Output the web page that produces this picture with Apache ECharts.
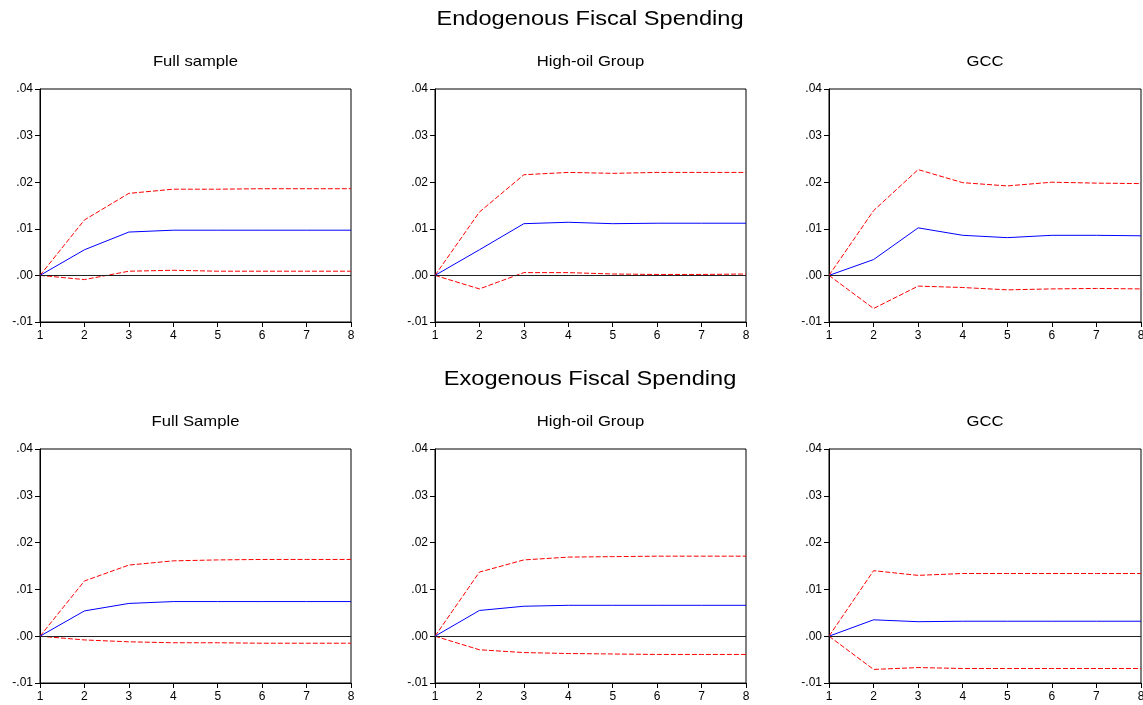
<!DOCTYPE html>
<html>
<head>
<meta charset="utf-8">
<script src="https://cdn.jsdelivr.net/npm/echarts@6/dist/echarts.min.js"></script>
<style>
  html, body { margin: 0; padding: 0; background: #fff; }
  #chart { width: 1143px; height: 705px; }
</style>
</head>
<body>
<div id="chart"></div>
<script>
// periods on the horizontal axis
var periods = [1, 2, 3, 4, 5, 6, 7, 8];

var rowTitles = ["Endogenous Fiscal Spending", "Exogenous Fiscal Spending"];
var panelTitles = ["Full sample", "High-oil Group", "GCC", "Full Sample", "High-oil Group", "GCC"];

// response (blue) and bands (red dashed) for each panel
var resp1 = [0, 0.0055, 0.0093, 0.0097, 0.0097, 0.0097, 0.0097, 0.0097];
var upper1 = [0, 0.0119, 0.0176, 0.0185, 0.0185, 0.0186, 0.0186, 0.0186];
var lower1 = [0, -0.0009, 0.0009, 0.0011, 0.0009, 0.0009, 0.0009, 0.0009];

var resp2 = [0, 0.0055, 0.0111, 0.0114, 0.0111, 0.0112, 0.0112, 0.0112];
var upper2 = [0, 0.0136, 0.0216, 0.0221, 0.0219, 0.0221, 0.0221, 0.0221];
var lower2 = [0, -0.0029, 0.0006, 0.0006, 0.0003, 0.0002, 0.0002, 0.0003];

var resp3 = [0, 0.0034, 0.0102, 0.0086, 0.0081, 0.0086, 0.0086, 0.0085];
var upper3 = [0, 0.0139, 0.0227, 0.0199, 0.0192, 0.0200, 0.0198, 0.0197];
var lower3 = [0, -0.0071, -0.0023, -0.0026, -0.0031, -0.0029, -0.0028, -0.0029];

var resp4 = [0, 0.0054, 0.0070, 0.0074, 0.0074, 0.0074, 0.0074, 0.0074];
var upper4 = [0, 0.0118, 0.0152, 0.0161, 0.0163, 0.0164, 0.0164, 0.0164];
var lower4 = [0, -0.0008, -0.0012, -0.0014, -0.0014, -0.0015, -0.0015, -0.0015];

var resp5 = [0, 0.0055, 0.0064, 0.0066, 0.0066, 0.0066, 0.0066, 0.0066];
var upper5 = [0, 0.0137, 0.0163, 0.0169, 0.0170, 0.0171, 0.0171, 0.0171];
var lower5 = [0, -0.0029, -0.0035, -0.0037, -0.0038, -0.0039, -0.0039, -0.0039];

var resp6 = [0, 0.0035, 0.0031, 0.0032, 0.0032, 0.0032, 0.0032, 0.0032];
var upper6 = [0, 0.0140, 0.0130, 0.0134, 0.0134, 0.0134, 0.0134, 0.0134];
var lower6 = [0, -0.0071, -0.0067, -0.0069, -0.0069, -0.0069, -0.0069, -0.0069];

var panels = [
  [resp1, upper1, lower1],
  [resp2, upper2, lower2],
  [resp3, upper3, lower3],
  [resp4, upper4, lower4],
  [resp5, upper5, lower5],
  [resp6, upper6, lower6]
];

var FONT = "Liberation Sans, Arial, sans-serif";

// grid boxes in pixels
var lefts = [40, 435, 829];
var widths = [311, 311, 312];
var tops = [89, 449];
var heights = [233, 234];

function pairs(arr) {
  return arr.map(function (v, i) { return [periods[i], v]; });
}

function yFmt(v) {
  var s = Math.abs(v).toFixed(2).replace(/^0/, "");
  return (v < 0 ? "-" : "") + s;
}

var grids = [], xAxes = [], yAxes = [], series = [], graphics = [];

panels.forEach(function (p, i) {
  var col = i % 3, row = Math.floor(i / 3);
  grids.push({
    left: lefts[col], top: tops[row], width: widths[col], height: heights[row],
    outerBoundsMode: "none",
    show: true, borderColor: "#000", borderWidth: 1, backgroundColor: "#fff"
  });
  xAxes.push({
    gridIndex: i, type: "value", min: 1, max: 8, interval: 1,
    axisLine: { show: true, onZero: false, lineStyle: { color: "#000", width: 1 } },
    axisTick: { show: true, length: 5, lineStyle: { color: "#000" } },
    axisLabel: { color: "#000", fontSize: 12, fontFamily: FONT, margin: 8 },
    splitLine: { show: false }
  });
  yAxes.push({
    gridIndex: i, type: "value", min: -0.01, max: 0.04, interval: 0.01,
    axisLine: { show: true, onZero: false, lineStyle: { color: "#000", width: 1 } },
    axisTick: { show: true, length: 5, lineStyle: { color: "#000" } },
    axisLabel: { color: "#000", fontSize: 12, fontFamily: FONT, margin: 7, formatter: yFmt },
    splitLine: { show: false }
  });
  series.push({
    type: "line", xAxisIndex: i, yAxisIndex: i, data: pairs(p[0]),
    symbol: "none", silent: true, z: 4,
    lineStyle: { color: "#0000ff", width: 1 },
    markLine: {
      silent: true, symbol: "none", label: { show: false },
      lineStyle: { color: "#222", width: 1, type: "solid" },
      data: [{ yAxis: 0 }]
    }
  });
  series.push({
    type: "line", xAxisIndex: i, yAxisIndex: i, data: pairs(p[1]),
    symbol: "none", silent: true, z: 3,
    lineStyle: { color: "#ff0000", width: 1, type: [5, 2] }
  });
  series.push({
    type: "line", xAxisIndex: i, yAxisIndex: i, data: pairs(p[2]),
    symbol: "none", silent: true, z: 3,
    lineStyle: { color: "#ff0000", width: 1, type: [5, 2] }
  });
  graphics.push({
    type: "text", x: lefts[col] + widths[col] / 2, y: row === 0 ? 62 : 422, scaleX: 1.11,
    style: { text: panelTitles[i], fill: "#000", font: "15px " + FONT, textAlign: "center", textVerticalAlign: "middle" }
  });
});

graphics.push({
  type: "text", x: 590, y: 19, scaleX: 1.18,
  style: { text: rowTitles[0], fill: "#000", font: "20px " + FONT, textAlign: "center", textVerticalAlign: "middle" }
});
graphics.push({
  type: "text", x: 590, y: 379, scaleX: 1.18,
  style: { text: rowTitles[1], fill: "#000", font: "20px " + FONT, textAlign: "center", textVerticalAlign: "middle" }
});

var chart = echarts.init(document.getElementById("chart"));
chart.setOption({
  animation: false,
  backgroundColor: "#fff",
  grid: grids,
  xAxis: xAxes,
  yAxis: yAxes,
  series: series,
  graphic: graphics
});
</script>
</body>
</html>
